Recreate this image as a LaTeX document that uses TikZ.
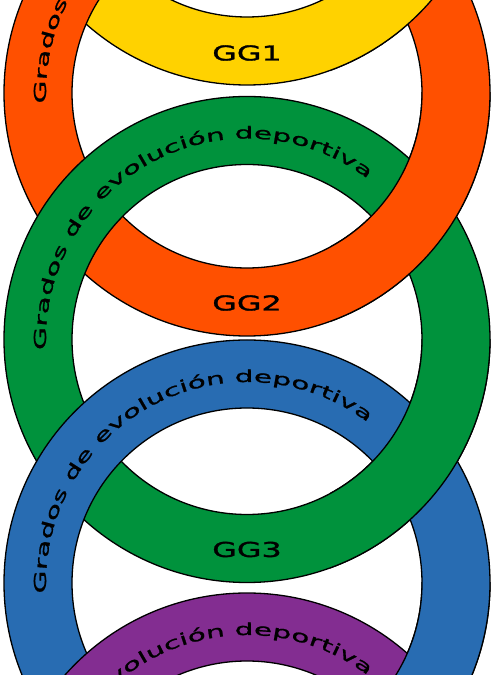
\documentclass[tikz,border=0pt]{standalone}
\usepackage{fontspec}
\usetikzlibrary{decorations.text}
\newfontfamily\ringfontfam[FakeStretch=1.8,FakeBold=1.2]{DejaVu Sans}
\newfontfamily\ggfontfam[FakeStretch=1.55,FakeBold=1.5]{DejaVu Sans}
\newcommand\ringfont{\ringfontfam\fontsize{16.5}{18}\selectfont}
\newcommand\ggfont{\ggfontfam\fontsize{20.5}{22}\selectfont}
\definecolor{ryellow}{RGB}{255,210,0}
\definecolor{rorange}{RGB}{255,80,0}
\definecolor{rgreen}{RGB}{0,146,60}
\definecolor{rblue}{RGB}{40,108,178}
\definecolor{rpurple}{RGB}{131,45,145}
\tikzset{
  ringline/.style={black, line width=1.3pt},
  gglabel/.style={font=\ggfont, inner sep=0pt, anchor=center}
}
\newcommand\ringbody[1]{%
  \fill[#1, even odd rule] (0,0) circle[radius=243] (0,0) circle[radius=175];
  \draw[ringline] (0,0) circle[radius=243];
  \draw[ringline] (0,0) circle[radius=175];
}
\newcommand\ringwords{%
  \path[decorate, decoration={text along path, text align=left,
      text={|\ringfont|Grados de evolución deportiva}}]
    (183:201) arc[start angle=183, end angle=35, radius=201];
}
\newcommand\fullring[2]{%
  \begin{scope}[shift={(#1)}]
    \ringbody{#2}
    \ringwords
  \end{scope}}
\newcommand\redrawright[4]{% center, color, ylow, yhigh
  \begin{scope}
    \clip (330,#3) rectangle (500,#4);
    \begin{scope}[shift={(#1)}]
      \ringbody{#2}
    \end{scope}
  \end{scope}}
\begin{document}
\begin{tikzpicture}[x=1pt,y=1pt]
\useasboundingbox (0,0) rectangle (492,675);
\clip (0,0) rectangle (492,675);
\coordinate (cy) at (247,833);
\coordinate (co) at (247,582);
\coordinate (cg) at (247,335.5);
\coordinate (cb) at (247,92);
\coordinate (cp) at (247,-161);
\fullring{cy}{ryellow}
\node[gglabel] (gg1) at ([yshift=-211]cy) {GG1};
\fullring{co}{rorange}
\node[gglabel] (gg2) at ([yshift=-210]co) {GG2};
\fullring{cg}{rgreen}
\node[gglabel] (gg3) at ([yshift=-210]cg) {GG3};
\fullring{cb}{rblue}
\fullring{cp}{rpurple}
\redrawright{cy}{ryellow}{582}{833}
\redrawright{co}{rorange}{335.5}{582}
\redrawright{cg}{rgreen}{92}{335.5}
\redrawright{cb}{rblue}{-161}{92}
\end{tikzpicture}
\end{document}
